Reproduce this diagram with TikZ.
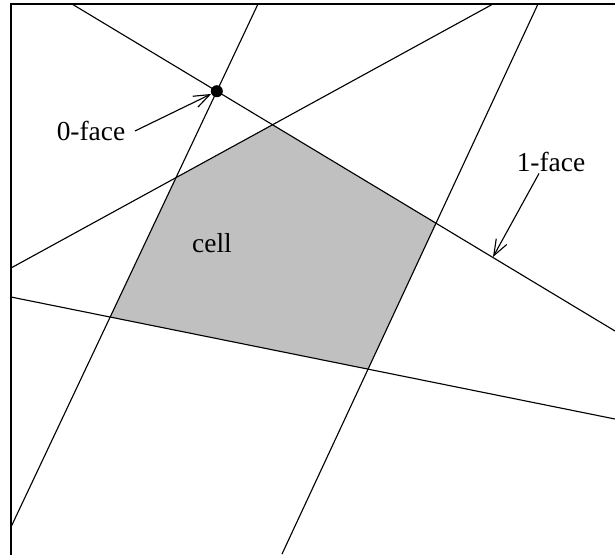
\documentclass[tikz,border=0pt]{standalone}
\usepackage{fontspec}
\setmainfont{Liberation Serif}
\usetikzlibrary{arrows.meta}

\begin{document}
\begin{tikzpicture}[x=0.025cm, y=-0.025cm, font=\fontsize{19.5}{23}\selectfont,
  ln/.style={line width=0.8pt},
  lbl/.style={inner sep=1pt},
  dot/.style={circle, fill, inner sep=0pt, minimum size=3mm},
  ptr/.style={line width=0.8pt, -{Straight Barb[length=4mm, width=3mm]}}]
  \useasboundingbox (0,0) rectangle (615,554);
  \clip (0,0) rectangle (615,554);
  \coordinate (a1) at (72,4);   \coordinate (a2) at (615,331);
  \coordinate (b1) at (258,4);  \coordinate (b2) at (11,527);
  \coordinate (c1) at (11,268); \coordinate (c2) at (493,4);
  \coordinate (d1) at (538,4);  \coordinate (d2) at (282,554);
  \coordinate (e1) at (11,297); \coordinate (e2) at (615,419);
  \fill[fill={rgb,255:red,192;green,192;blue,192}]
    (intersection of c1--c2 and b1--b2) -- (intersection of c1--c2 and a1--a2)
    -- (intersection of a1--a2 and d1--d2) -- (intersection of d1--d2 and e1--e2)
    -- (intersection of e1--e2 and b1--b2) -- cycle;
  \foreach \l in {a,b,c,d,e} {\draw[ln] (\l1) -- (\l2);}
  \draw[ln] (11,560) |- (620,4);
  \node[dot] (v) at (intersection of a1--a2 and b1--b2) {};
  \coordinate (hit) at (493,257);
  \node[lbl] (zero) at (91,131) {0-face};
  \node[lbl] (one) at (551,162) {1-face};
  \node[lbl] (cell) at (212,243) {cell};
  \draw[ptr] ([xshift=2mm]zero.east) -- (v);
  \draw[ptr] ([xshift=-3mm]one.south) -- (hit);
\end{tikzpicture}
\end{document}
